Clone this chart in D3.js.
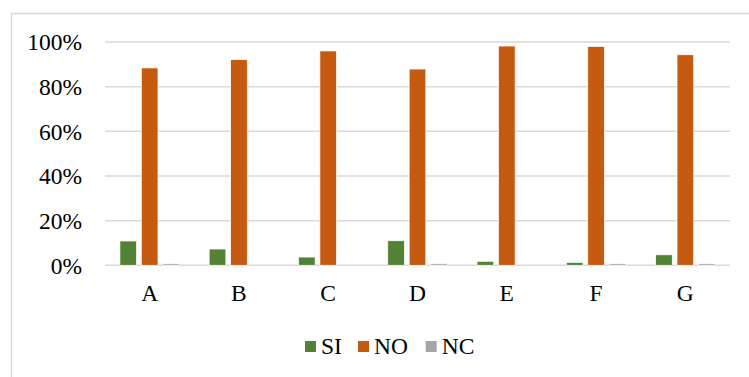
<!DOCTYPE html>
<html>
<head>
<meta charset="utf-8">
<script src="https://cdn.jsdelivr.net/npm/d3@7"></script>
<style>
  html, body { margin: 0; padding: 0; background: #fff; }
  svg { display: block; }
  svg text { font-family: "Liberation Serif", "Times New Roman", Times, serif !important; fill: #000; }
</style>
</head>
<body>
<svg id="chart" width="749" height="377"></svg>
<script>
const categories = ["A", "B", "C", "D", "E", "F", "G"];
const seriesNames = ["SI", "NO", "NC"];
const siValues = [0.109, 0.073, 0.037, 0.110, 0.018, 0.013, 0.047];
const noValues = [0.884, 0.921, 0.960, 0.879, 0.982, 0.980, 0.943];
const ncValues = [0.007, 0.000, 0.000, 0.007, 0.000, 0.007, 0.007];
const yTicks = [0, 0.2, 0.4, 0.6, 0.8, 1.0];
const colors = ["#548235", "#C55A11", "#A5A5A5"];

const seriesValues = [siValues, noValues, ncValues];
const FONT = "'Liberation Serif', 'Times New Roman', serif";
const FS = "23.5px";

const svg = d3.select("#chart");
const W = 749, H = 377;

svg.append("rect")
  .attr("x", 11.5).attr("y", 13.5)
  .attr("width", W + 10).attr("height", H + 10)
  .attr("fill", "#fff").attr("stroke", "#d9d9d9").attr("stroke-width", 1.5);

const plot = { left: 105, right: 730, top: 42, bottom: 265.3 };

const x0 = d3.scaleBand().domain(categories)
  .range([plot.left, plot.right]).paddingInner(0.333).paddingOuter(0.1665);
const x1 = d3.scaleBand().domain(seriesNames)
  .range([0, x0.bandwidth()]).paddingInner(0.22);
const y = d3.scaleLinear().domain([0, 1]).range([plot.bottom, plot.top]);

svg.append("g").selectAll("line").data(yTicks).join("line")
  .attr("x1", plot.left).attr("x2", plot.right)
  .attr("y1", d => y(d)).attr("y2", d => y(d))
  .attr("stroke", "#d9d9d9").attr("stroke-width", 1.5);

const yAxis = d3.axisLeft(y).tickValues(yTicks).tickFormat(d3.format(".0%")).tickSize(0).tickPadding(0);
const ya = svg.append("g").attr("transform", `translate(${82},0)`).call(yAxis);
ya.select(".domain").remove();
ya.selectAll("text").style("font-family", FONT).style("font-size", FS).attr("fill", "#000").attr("dy", "0.33em");

const groups = svg.append("g").selectAll("g").data(categories).join("g")
  .attr("transform", d => `translate(${x0(d)},0)`);
groups.selectAll("rect")
  .data((c, i) => seriesNames.map((s, j) => ({ s, j, v: seriesValues[j][i] })))
  .join("rect")
  .filter(d => d.v > 0)
  .attr("x", d => x1(d.s))
  .attr("width", x1.bandwidth())
  .attr("y", d => y(d.v))
  .attr("height", d => y(0) - y(d.v))
  .attr("fill", d => colors[d.j])
  .attr("stroke", "#fff").attr("stroke-width", 0.75);

const xAxis = d3.axisBottom(x0).tickSize(0).tickPadding(0);
const xa = svg.append("g").attr("transform", `translate(0,${284})`).call(xAxis);
xa.select(".domain").remove();
xa.selectAll("text").style("font-family", FONT).style("font-size", FS).attr("fill", "#000");

const legendX = [305, 358, 425.7];
const leg = svg.append("g").selectAll("g").data(seriesNames).join("g")
  .attr("transform", (d, i) => `translate(${legendX[i]},${341})`);
leg.append("rect").attr("width", 11).attr("height", 11).attr("fill", (d, i) => colors[i]);
leg.append("text").attr("x", 16).attr("y", 13)
  .style("font-family", FONT).style("font-size", FS).text(d => d);
</script>
</body>
</html>
